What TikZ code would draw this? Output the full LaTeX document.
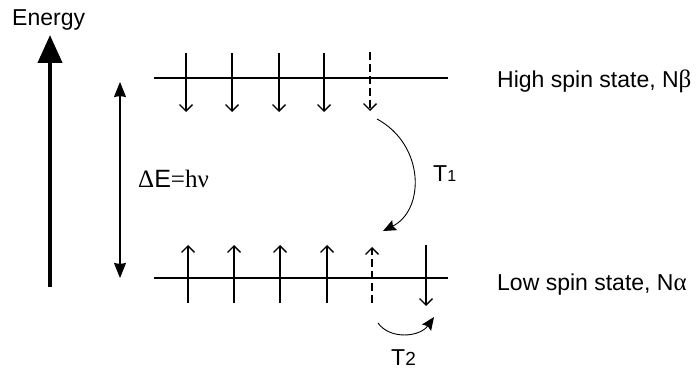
\documentclass[tikz,border=0pt]{standalone}
\usepackage{fontspec}
\setmainfont{Liberation Sans}
\newfontfamily\grk{Liberation Serif}
\usetikzlibrary{arrows.meta}
\begin{document}
\begin{tikzpicture}[x=1pt,y=-1pt,
  lbl/.style={inner sep=0pt,anchor=base west,font=\fontsize{23}{27}\selectfont},
  level/.style={line width=1.8pt},
  spin/.style={line width=1.4pt,-{Straight Barb[length=6.5pt,width=13pt,line width=1.4pt]}},
  dspin/.style={spin,dash pattern=on 8pt off 4pt},
  trans/.style={line width=0.9pt,-{Stealth[length=13pt,width=11pt,inset=2pt]}}]
\useasboundingbox (0,0) rectangle (698,371);
% Energy axis
\node[lbl] (energy) at (12,26) {Energy};
\coordinate (eb) at (50,287);
\coordinate (et) at (50,35);
\draw[line width=4.2pt,-{Triangle[length=28pt,width=24pt]}] (eb) -- (et);
% Delta E
\coordinate (da) at (120,82);
\coordinate (db) at (120,278);
\draw[line width=1.3pt,{Stealth[length=15pt,width=12pt,inset=1pt]}-{Stealth[length=15pt,width=12pt,inset=1pt]}] (da) -- (db);
\node[lbl,font=\fontsize{25}{29}\selectfont] (de) at (138,188) {{\grk Δ}E{\grk =hν}};
% levels
\coordinate (ul) at (154,78); \coordinate (ur) at (448,78);
\coordinate (ll) at (154,278); \coordinate (lr) at (448,278);
\draw[level] (ul) -- (ur);
\draw[level] (ll) -- (lr);
% upper spins (down)
\foreach \x [count=\i] in {186,232,279,324}{
  \coordinate (ut\i) at (\x,53); \coordinate (ub\i) at (\x,112);
  \draw[spin] (ut\i) -- (ub\i);
}
\coordinate (ut5) at (370,52); \coordinate (ub5) at (370,111);
\draw[dspin] (ut5) -- (ub5);
% lower spins (up)
\foreach \x [count=\i] in {188,234,280,327}{
  \coordinate (lb\i) at (\x,303); \coordinate (lt\i) at (\x,245);
  \draw[spin] (lb\i) -- (lt\i);
}
\coordinate (lb5) at (372,303); \coordinate (lt5) at (372,247);
\draw[dspin] (lb5) -- (lt5);
\coordinate (rt) at (426,245); \coordinate (rb) at (426,306);
\draw[spin] (rt) -- (rb);
% T1
\coordinate (t1s) at (377,119); \coordinate (t1e) at (383,231);
\draw[trans] (t1s) .. controls (425,145) and (425,210) .. (t1e);
\node[lbl] (t1) at (433,182) {T\fontsize{16}{18}\selectfont 1};
% T2
\coordinate (t2s) at (378,323); \coordinate (t2e) at (434,317);
\draw[trans] (t2s) .. controls (390,340) and (420,337) .. (t2e);
\node[lbl] (t2) at (391,365) {T\fontsize{19}{20}\selectfont 2};
% state labels
\node[lbl] (hi) at (497,88) {High spin state, N{\grk\fontsize{25}{27}\selectfont β}};
\node[lbl] (lo) at (497,290) {Low spin state, N{\grk\fontsize{25}{27}\selectfont α}};
\end{tikzpicture}
\end{document}
